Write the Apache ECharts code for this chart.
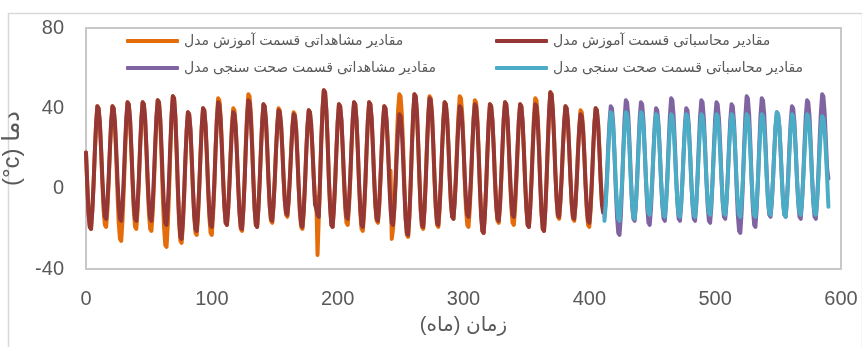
<!DOCTYPE html>
<html>
<head>
<meta charset="utf-8">
<script src="https://cdn.jsdelivr.net/npm/echarts@6/dist/echarts.min.js"></script>
<style>
  html, body { margin: 0; padding: 0; background: #fff; }
  #chart { width: 862px; height: 347px; }
</style>
</head>
<body>
<div id="chart"></div>
<script>
// نام سری‌ها
var seriesNames = [
  'مقادیر مشاهداتی قسمت آموزش مدل',
  'مقادیر محاسباتی قسمت آموزش مدل',
  'مقادیر مشاهداتی قسمت صحت سنجی مدل',
  'مقادیر محاسباتی قسمت صحت سنجی مدل'
]

// ماه شروع قسمت صحت سنجی
var testStart = 412

var xTicks = [0, 100, 200, 300, 400, 500, 600]
var yTicks = [-40, 0, 40, 80]

// مقادیر مشاهداتی - آموزش (ماه 0 تا 411)
var obsTrain = [
  18, 2, -12, -19, -20, -11, 2, 18, 32, 41, 40, 33,
  19, 3, -11, -18, -19, -11, 3, 19, 33, 41, 40, 32,
  16, -2, -17, -25, -26, -16, -1, 17, 33, 43, 42, 34,
  20, 3, -11, -19, -20, -11, 3, 20, 34, 43, 42, 34,
  19, 2, -12, -20, -21, -12, 2, 20, 35, 44, 43, 34,
  17, -3, -19, -28, -29, -18, -2, 18, 35, 46, 45, 36,
  19, -1, -17, -26, -27, -18, -4, 14, 29, 38, 37, 29,
  15, -1, -14, -22, -23, -14, 0, 17, 31, 40, 39, 31,
  17, 0, -14, -22, -23, -13, 1, 20, 35, 45, 44, 36,
  22, 5, -9, -17, -18, -10, 3, 19, 32, 40, 39, 31,
  17, 1, -12, -20, -21, -11, 3, 22, 37, 47, 46, 38,
  23, 5, -10, -18, -19, -10, 3, 19, 33, 42, 41, 34,
  20, 4, -9, -16, -17, -9, 4, 19, 32, 40, 39, 32,
  20, 5, -6, -13, -14, -7, 5, 19, 31, 38, 37, 30,
  17, 1, -12, -19, -20, -12, 1, 17, 31, 39, 38, 29,
  20, 6, -5, -4, -33, -14, 4, 25, 40, 49, 48, 39,
  24, 5, -9, -18, -19, -10, 3, 19, 33, 42, 41, 34,
  20, 4, -10, -17, -18, -9, 4, 20, 34, 43, 42, 34,
  19, 2, -12, -20, -21, -12, 2, 19, 34, 43, 42, 35,
  21, 5, -9, -16, -17, -9, 4, 20, 33, 41, 40, 32,
  21, 8, 9, -25, -20, -10, 5, 24, 39, 47, 46, 37,
  21, 2, -14, -23, -24, -14, 2, 21, 37, 47, 46, 38,
  22, 4, -11, -19, -20, -11, 4, 22, 37, 46, 45, 37,
  22, 4, -10, -18, -19, -10, 3, 20, 34, 43, 42, 35,
  22, 6, -7, -14, -15, -6, 7, 23, 37, 46, 45, 37,
  22, 4, -10, -18, -19, -10, 4, 21, 35, 44, 43, 35,
  20, 2, -13, -21, -22, -13, 1, 18, 33, 42, 41, 34,
  20, 4, -9, -16, -17, -9, 5, 21, 35, 43, 42, 34,
  20, 4, -9, -17, -18, -10, 4, 20, 34, 42, 41, 33,
  19, 3, -10, -18, -19, -10, 4, 21, 36, 45, 44, 36,
  21, 3, -12, -20, -21, -11, 4, 22, 38, 48, 47, 39,
  25, 8, -6, -14, -15, -7, 5, 20, 33, 41, 40, 33,
  20, 5, -8, -15, -16, -8, 4, 19, 31, 39, 38, 31,
  18, 2, -11, -18, -19, -11, 2, 18, 32, 40, 39, 32,
  20, 5, -6, -10
]

// مقادیر محاسباتی - آموزش
var calcTrain = [
  18, 2, -12, -19, -20, -11, 2, 18, 32, 41, 40, 33,
  20, 5, -7, -14, -15, -7, 5, 20, 33, 41, 40, 33,
  20, 5, -8, -15, -16, -8, 5, 21, 35, 43, 42, 35,
  21, 5, -8, -15, -16, -8, 5, 21, 35, 43, 42, 35,
  21, 5, -8, -15, -16, -8, 6, 22, 36, 44, 43, 35,
  21, 4, -9, -17, -18, -9, 5, 22, 37, 46, 45, 36,
  20, 1, -15, -24, -25, -16, -2, 15, 29, 38, 37, 30,
  16, 0, -13, -20, -21, -12, 1, 17, 31, 40, 39, 32,
  18, 2, -11, -18, -19, -10, 3, 20, 34, 43, 42, 34,
  20, 4, -9, -17, -18, -10, 2, 17, 30, 38, 37, 30,
  17, 1, -12, -19, -20, -11, 3, 20, 35, 44, 43, 35,
  21, 4, -10, -18, -19, -10, 3, 19, 33, 42, 41, 34,
  21, 5, -8, -15, -16, -8, 4, 19, 31, 39, 38, 32,
  20, 6, -6, -12, -13, -6, 5, 18, 30, 37, 36, 29,
  16, 1, -11, -18, -19, -11, 2, 18, 31, 39, 38, 32,
  19, 5, -8, -10, -13, -14, 4, 24, 40, 49, 48, 39,
  24, 5, -9, -18, -19, -10, 3, 19, 33, 42, 41, 34,
  21, 6, -7, -14, -15, -7, 6, 22, 35, 43, 42, 34,
  20, 3, -10, -18, -19, -10, 3, 20, 34, 43, 42, 35,
  21, 5, -8, -15, -16, -8, 5, 20, 33, 41, 40, 33,
  19, 3, -10, -17, -18, -10, 2, 17, 29, 37, 36, 29,
  15, -1, -15, -22, -23, -13, 2, 21, 37, 47, 46, 38,
  23, 5, -10, -18, -19, -10, 4, 21, 36, 45, 44, 36,
  22, 5, -9, -17, -18, -9, 4, 20, 34, 43, 42, 35,
  22, 6, -7, -14, -15, -7, 5, 20, 33, 41, 40, 33,
  21, 6, -6, -13, -14, -6, 6, 21, 34, 42, 41, 33,
  18, 1, -13, -21, -22, -13, 1, 18, 33, 42, 41, 34,
  21, 5, -8, -15, -16, -8, 5, 21, 35, 43, 42, 35,
  22, 7, -6, -13, -14, -6, 6, 21, 34, 42, 41, 33,
  19, 3, -10, -18, -19, -10, 3, 19, 33, 42, 41, 33,
  19, 2, -12, -20, -21, -11, 4, 22, 38, 48, 47, 39,
  25, 8, -5, -13, -14, -6, 6, 21, 33, 41, 40, 33,
  20, 5, -7, -14, -15, -8, 4, 18, 30, 37, 36, 29,
  17, 2, -9, -16, -17, -9, 4, 19, 32, 40, 39, 32,
  19, 4, -8, -12
]

// مقادیر مشاهداتی - صحت سنجی (ماه 412 به بعد)
var obsTest = [
  -14, -6, 6, 21, 33, 41, 40, 32,
  17, 0, -14, -22, -23, -14, 1, 19, 35, 44, 43, 36,
  22, 6, -8, -15, -16, -8, 5, 21, 35, 43, 42, 34,
  20, 4, -9, -17, -18, -10, 3, 19, 32, 40, 39, 32,
  19, 4, -8, -15, -16, -7, 6, 22, 36, 45, 44, 36,
  22, 6, -7, -15, -16, -8, 4, 19, 32, 40, 39, 32,
  19, 4, -8, -15, -16, -8, 6, 22, 36, 44, 43, 35,
  21, 5, -8, -16, -17, -9, 5, 21, 35, 43, 42, 35,
  22, 6, -7, -14, -15, -7, 6, 21, 34, 42, 41, 33,
  18, 1, -13, -21, -22, -12, 2, 21, 36, 46, 45, 37,
  22, 4, -10, -18, -19, -10, 4, 21, 36, 45, 44, 37,
  23, 7, -6, -13, -14, -7, 5, 19, 31, 38, 37, 31,
  19, 5, -7, -13, -14, -6, 6, 21, 33, 41, 40, 33,
  20, 5, -7, -14, -15, -7, 6, 22, 36, 44, 43, 36,
  22, 6, -7, -14, -15, -6, 7, 24, 38, 47, 46, 38,
  24, 10, 5
]

// مقادیر محاسباتی - صحت سنجی
var calcTest = [
  -16, -8, 3, 18, 30, 38, 37, 30,
  18, 3, -8, -15, -16, -8, 3, 18, 30, 38, 37, 31,
  18, 4, -8, -14, -15, -8, 4, 18, 31, 38, 37, 31,
  19, 5, -6, -12, -13, -6, 5, 18, 30, 37, 36, 30,
  18, 4, -7, -13, -14, -7, 4, 18, 30, 37, 36, 30,
  18, 4, -7, -13, -14, -7, 4, 18, 30, 37, 36, 30,
  18, 4, -7, -13, -14, -7, 4, 18, 30, 37, 36, 30,
  19, 5, -6, -12, -13, -6, 5, 18, 30, 37, 36, 30,
  18, 5, -6, -12, -13, -6, 5, 19, 30, 37, 36, 30,
  18, 4, -7, -13, -14, -7, 4, 18, 30, 37, 36, 30,
  18, 4, -7, -13, -14, -7, 4, 18, 30, 37, 36, 30,
  19, 5, -6, -12, -13, -6, 5, 19, 31, 38, 37, 31,
  19, 5, -7, -13, -14, -7, 4, 18, 30, 37, 36, 30,
  19, 5, -6, -12, -13, -6, 5, 18, 30, 37, 36, 30,
  19, 5, -6, -12, -13, -6, 5, 18, 29, 36, 35, 29,
  18, 5, -9
]

var colors = ['#E46C0A', '#953735', '#8064A2', '#4BACC6']
var textColor = '#595959'
var fontFamily = "'Liberation Sans', 'DejaVu Sans', sans-serif"

// تبدیل به جفت [ماه، مقدار]
function toPairs (values, start) {
  return values.map(function (v, i) { return [start + i, v] })
}

function makeSeries (idx, values, start) {
  return {
    name: seriesNames[idx],
    type: 'line',
    symbol: 'none',
    smooth: false,
    animation: false,
    lineStyle: { color: colors[idx], width: 4, cap: 'round', join: 'round' },
    itemStyle: { color: colors[idx] },
    data: toPairs(values, start)
  }
}

function makeLegend (idx, left, top) {
  return {
    data: [{ name: seriesNames[idx], icon: 'roundRect' }],
    left: left,
    top: top,
    padding: 0,
    itemWidth: 53,
    itemHeight: 4,
    itemGap: 6,
    textStyle: { color: textColor, fontSize: 14, fontFamily: fontFamily }
  }
}

var myChart = echarts.init(document.getElementById('chart'))

var option = {
  backgroundColor: '#ffffff',
  animation: false,
  graphic: [{
    type: 'rect',
    left: 6,
    top: 11,
    shape: { width: 854, height: 345 },
    style: { fill: 'none', stroke: '#d9d9d9', lineWidth: 1.5 },
    silent: true,
    z: -1
  }],
  grid: {
    left: 86,
    right: 21,
    top: 28,
    bottom: 78,
    containLabel: false,
    outerBoundsMode: 'none',
    show: true,
    borderColor: '#c8c8c8',
    borderWidth: 2
  },
  legend: [
    makeLegend(0, 126, 34),
    makeLegend(1, 495, 34),
    makeLegend(2, 126, 61),
    makeLegend(3, 495, 61)
  ],
  xAxis: {
    type: 'value',
    min: xTicks[0],
    max: xTicks[xTicks.length - 1],
    interval: 100,
    name: 'زمان (ماه)',
    nameLocation: 'middle',
    nameGap: 46,
    nameTextStyle: { color: textColor, fontSize: 20, fontFamily: fontFamily },
    axisLine: { show: false },
    axisTick: { show: false },
    splitLine: { show: false },
    axisLabel: { color: textColor, fontSize: 20, margin: 20, fontFamily: fontFamily }
  },
  yAxis: {
    type: 'value',
    min: yTicks[0],
    max: yTicks[yTicks.length - 1],
    interval: 40,
    name: '(°c) دما',
    nameLocation: 'middle',
    nameRotate: 90,
    nameGap: 42,
    nameTextStyle: { color: textColor, fontSize: 24, fontFamily: fontFamily },
    axisLine: { show: false },
    axisTick: { show: false },
    splitLine: { show: false },
    axisLabel: { color: textColor, fontSize: 20, margin: 22, fontFamily: fontFamily }
  },
  series: [
    makeSeries(0, obsTrain, 0),
    makeSeries(1, calcTrain, 0),
    makeSeries(2, obsTest, testStart),
    makeSeries(3, calcTest, testStart)
  ]
}

myChart.setOption(option)
window.onresize = myChart.resize
</script>
</body>
</html>
